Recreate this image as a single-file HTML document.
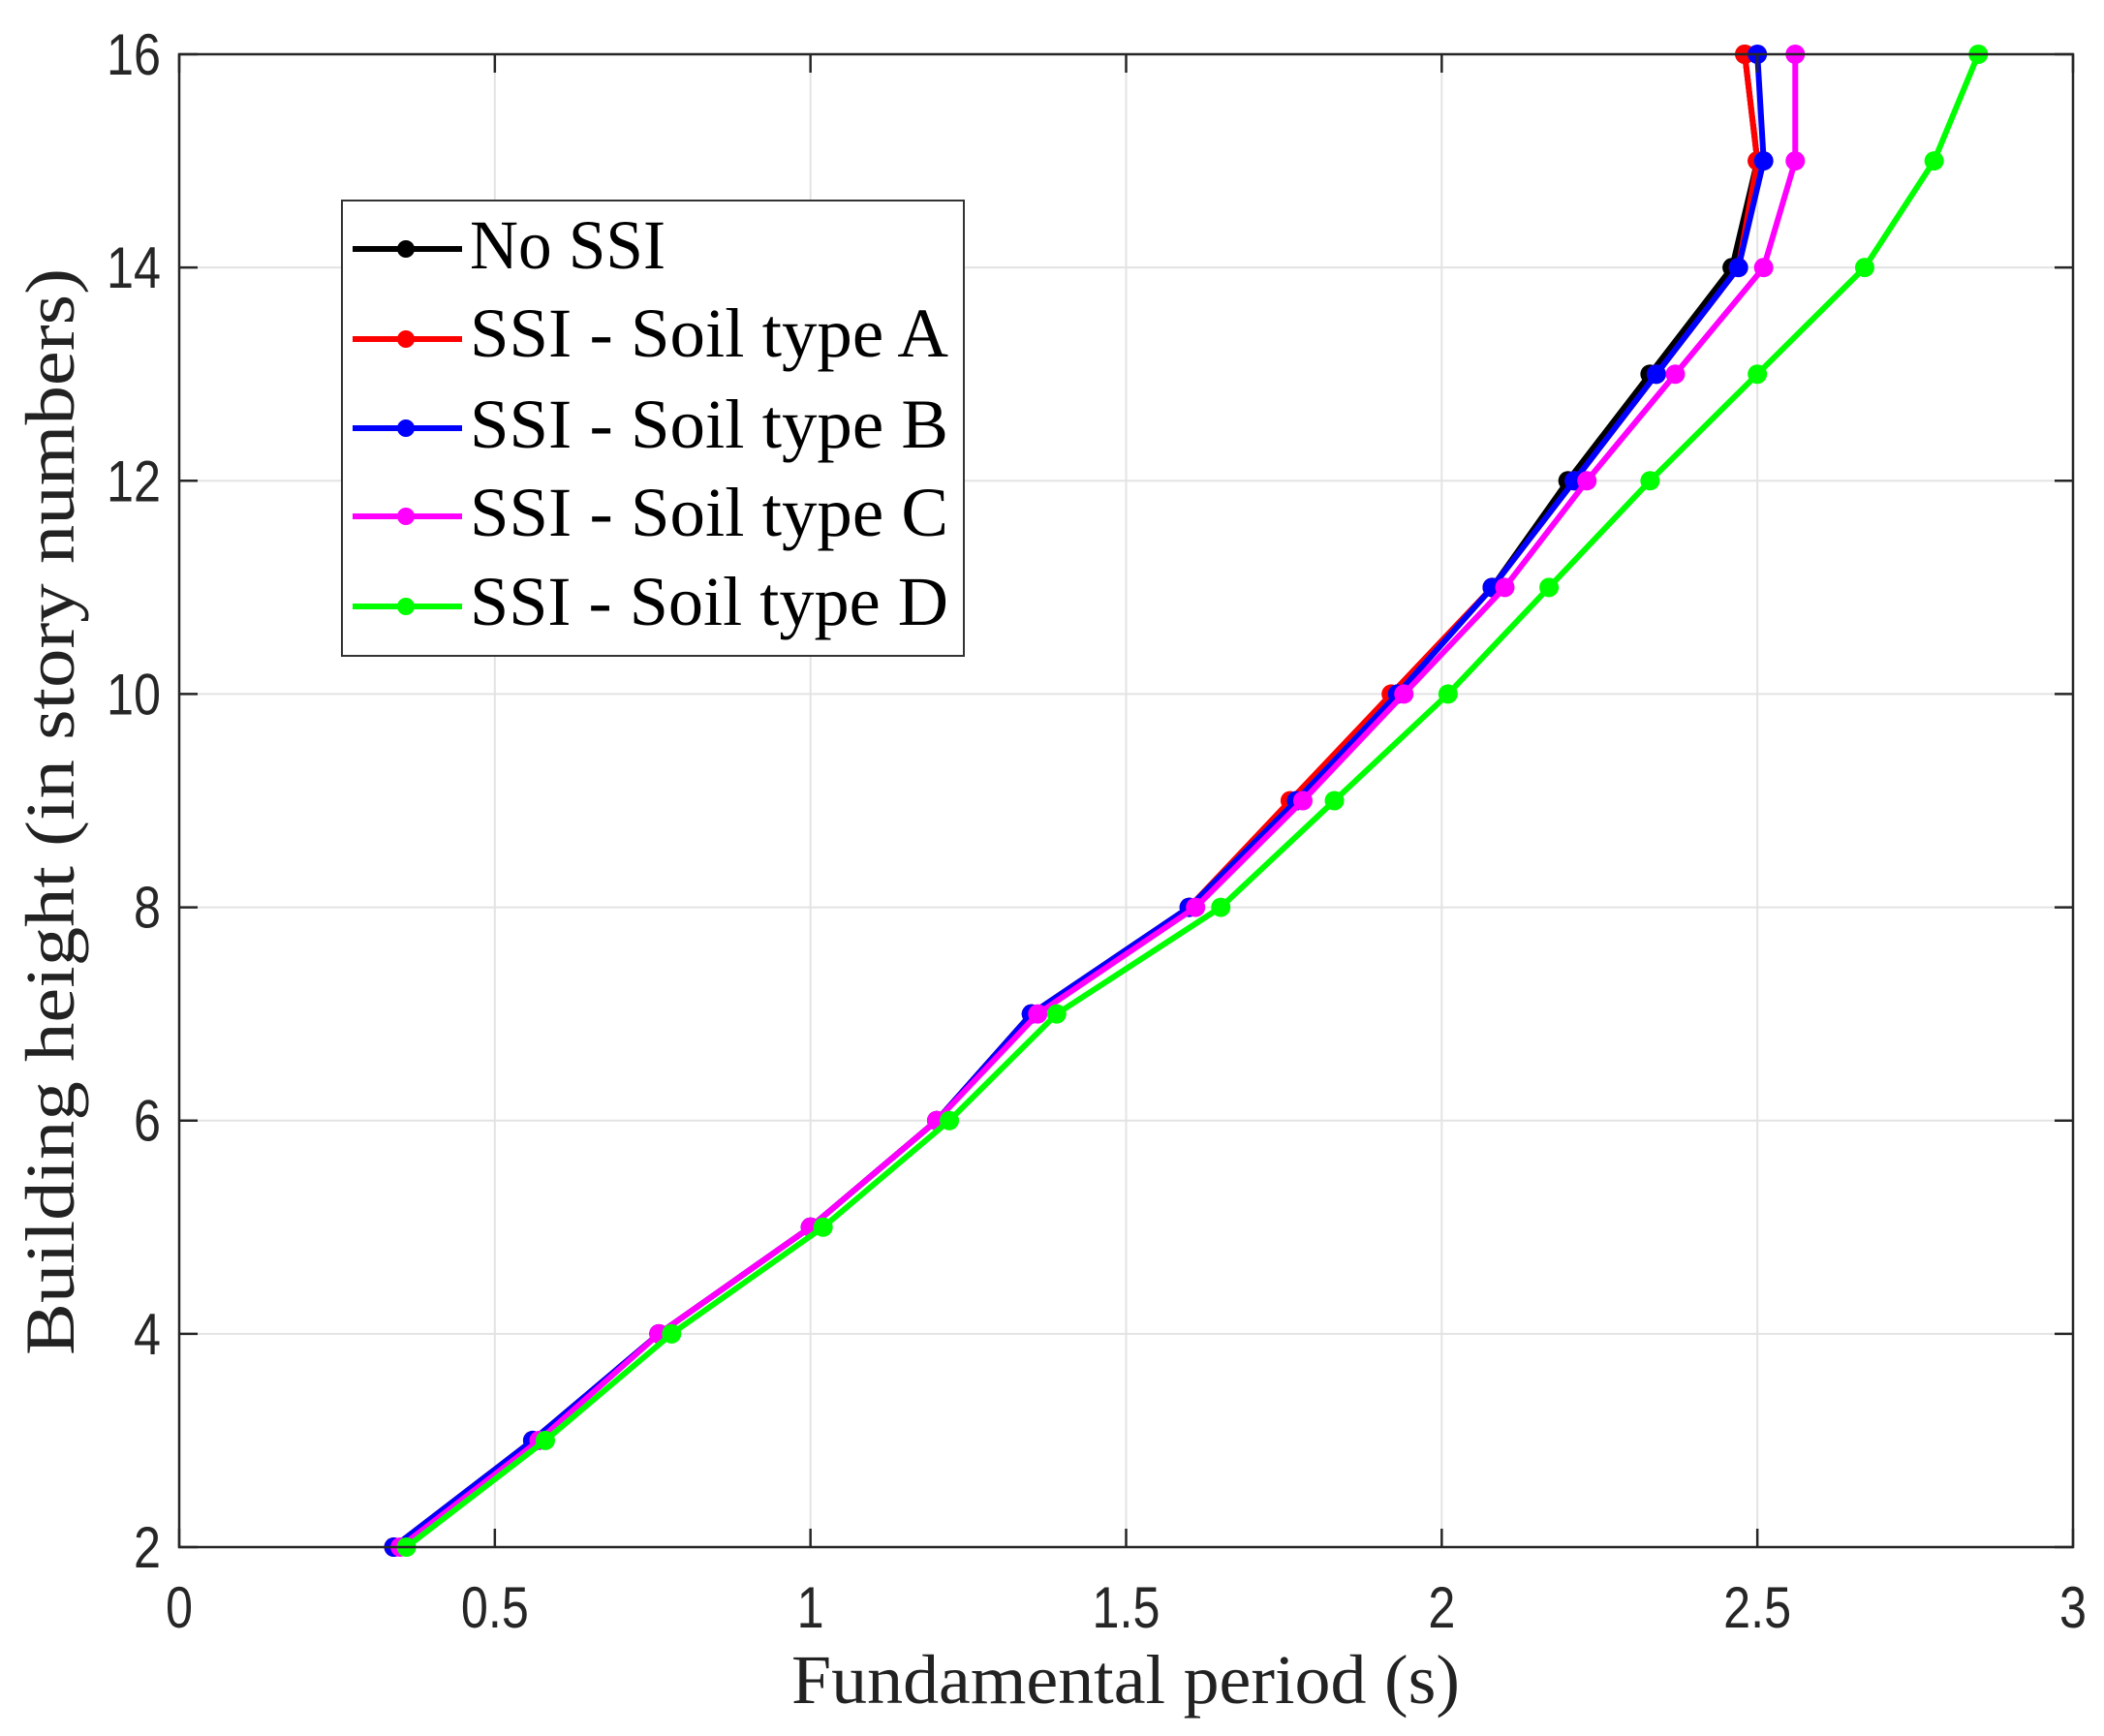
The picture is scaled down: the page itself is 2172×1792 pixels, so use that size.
<!DOCTYPE html>
<html><head><meta charset="utf-8"><style>html,body{margin:0;padding:0;background:#fff}svg{display:block}</style></head>
<body>
<svg id="chart" width="2172" height="1792" viewBox="0 0 2172 1792" xmlns="http://www.w3.org/2000/svg">
<rect width="2172" height="1792" fill="#fff"/>
<g id="grid"></g>
<g id="series"></g>
<rect x="185" y="56" width="1955" height="1541" fill="none" stroke="#262626" stroke-width="2.5"/>
<g id="ticks"></g>
<text x="1162" y="1758" text-anchor="middle" font-family="Liberation Serif, serif" font-size="72" textLength="690" lengthAdjust="spacingAndGlyphs" fill="#222">Fundamental period (s)</text>
<text transform="translate(76,838) rotate(-90)" text-anchor="middle" font-family="Liberation Serif, serif" font-size="72" textLength="1122" lengthAdjust="spacingAndGlyphs" fill="#222">Building height (in story numbers)</text>
<g id="legend">
<rect x="353" y="207" width="642" height="470" fill="#fff" stroke="#333" stroke-width="2"/>
</g>
</svg>
<script>
const stories = [2,3,4,5,6,7,8,9,10,11,12,13,14,15,16];
const noSSI = [0.34,0.56,0.76,1.0,1.2,1.35,1.6,1.77,1.93,2.08,2.2,2.33,2.46,2.50,2.48];
const soilA = [0.34,0.56,0.76,1.0,1.2,1.35,1.6,1.76,1.92,2.08,2.21,2.34,2.47,2.50,2.48];
const soilB = [0.34,0.56,0.76,1.0,1.2,1.35,1.6,1.77,1.93,2.08,2.21,2.34,2.47,2.51,2.50];
const soilC = [0.35,0.57,0.76,1.0,1.2,1.36,1.61,1.78,1.94,2.10,2.23,2.37,2.51,2.56,2.56];
const soilD = [0.36,0.58,0.78,1.02,1.22,1.39,1.65,1.83,2.01,2.17,2.33,2.50,2.67,2.78,2.85];
const xTicks = [0,0.5,1,1.5,2,2.5,3];
const xTickLabels = ["0","0.5","1","1.5","2","2.5","3"];
const yTicks = [2,4,6,8,10,12,14,16];
const yTickLabels = ["2","4","6","8","10","12","14","16"];
const seriesNames = ["No SSI","SSI - Soil type A","SSI - Soil type B","SSI - Soil type C","SSI - Soil type D"];
const seriesKeys = ["no-ssi","soil-a","soil-b","soil-c","soil-d"];

const NS="http://www.w3.org/2000/svg";
const L=185,R=2140,T=56,B=1597;
const xs=v=>L+(v-0)/(3-0)*(R-L);
const ys=v=>B-(v-2)/(16-2)*(B-T);
function mk(tag,attrs,parent){const e=document.createElementNS(NS,tag);for(const k in attrs)e.setAttribute(k,attrs[k]);parent.appendChild(e);return e;}
const grid=document.getElementById('grid'),ticks=document.getElementById('ticks'),sg=document.getElementById('series'),lg=document.getElementById('legend');
xTicks.forEach((t,i)=>{
  const x=xs(t);
  const g=mk('line',{x1:x,x2:x,y1:T,y2:B,stroke:'#e3e3e3','stroke-width':2},grid);
  
  
  const tk=mk('line',{x1:x,x2:x,y1:B,y2:B-19,stroke:'#262626','stroke-width':2.5},ticks);
  
  
  const tk2=mk('line',{x1:x,x2:x,y1:T,y2:T+19,stroke:'#262626','stroke-width':2.5},ticks);
  
  
  const s=xTickLabels[i];
  const w=[...s].reduce((a,c)=>a+(c=='.'?14:28),0);
  const tx=mk('text',{x:x,y:1680,'text-anchor':'middle','font-family':'Liberation Sans, sans-serif','font-size':60,fill:'#262626',textLength:w,lengthAdjust:'spacingAndGlyphs'},ticks);
  tx.textContent=s;
  
  
});
yTicks.forEach((t,i)=>{
  const y=ys(t);
  const g=mk('line',{x1:L,x2:R,y1:y,y2:y,stroke:'#e3e3e3','stroke-width':2},grid);
  
  
  const tk=mk('line',{x1:L,x2:L+19,y1:y,y2:y,stroke:'#262626','stroke-width':2.5},ticks);
  
  
  const tk2=mk('line',{x1:R,x2:R-19,y1:y,y2:y,stroke:'#262626','stroke-width':2.5},ticks);
  
  
  const s=yTickLabels[i];
  const w=s.length*28;
  const tx=mk('text',{x:166,y:y+21,'text-anchor':'end','font-family':'Liberation Sans, sans-serif','font-size':60,fill:'#262626',textLength:w,lengthAdjust:'spacingAndGlyphs'},ticks);
  tx.textContent=s;
  
  
});
const data=[noSSI,soilA,soilB,soilC,soilD];
const colors=['#000000','#ff0000','#0000ff','#ff00ff','#00ff00'];
data.forEach((arr,si)=>{
  const g=mk('g',{},sg);
  
  
  const pts=arr.map((v,i)=>xs(v)+','+ys(stories[i])).join(' ');
  const pl=mk('polyline',{points:pts,fill:'none',stroke:colors[si],'stroke-width':6,'stroke-linejoin':'round'},g);
  
  
  arr.forEach((v,i)=>{
    const c=mk('circle',{cx:xs(v),cy:ys(stories[i]),r:10,fill:colors[si]},g);
    
    
  });
});
const lineY=[257,350,442,533,626];
const textY=[277,368,462,553,645];
const textW=[202,494,494,494,494];
seriesNames.forEach((n,i)=>{
  const g=mk('g',{},lg);
  
  
  mk('line',{x1:364,x2:477,y1:lineY[i],y2:lineY[i],stroke:colors[i],'stroke-width':6},g);
  mk('circle',{cx:419,cy:lineY[i],r:9,fill:colors[i]},g);
  const t=mk('text',{x:485,y:textY[i],'font-family':'Liberation Serif, serif','font-size':72,fill:'#000',textLength:textW[i],lengthAdjust:'spacingAndGlyphs'},g);
  t.textContent=n;
  
  
});
</script>
</body></html>
